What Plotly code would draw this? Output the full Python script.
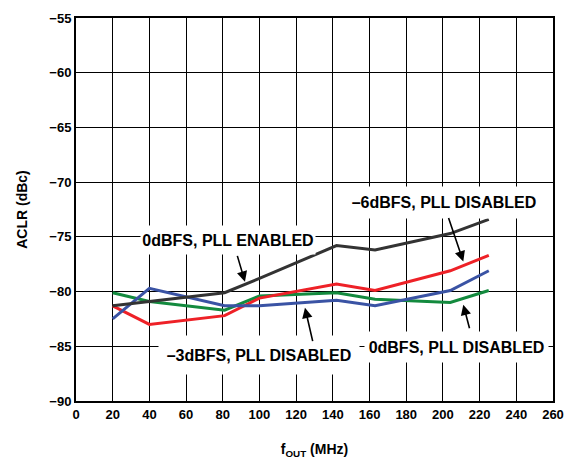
import plotly.graph_objects as go

# ACLR vs output frequency
f_out = [20, 40, 81, 100, 142, 163, 204, 225]

aclr_0dbfs_pll_on = [-81.3, -80.9, -80.1, -78.8, -75.8, -76.2, -74.7, -73.4]
aclr_m6dbfs_pll_off = [-81.3, -83.0, -82.2, -80.6, -79.3, -79.9, -78.1, -76.7]
aclr_m3dbfs_pll_off = [-82.5, -79.7, -81.3, -81.3, -80.8, -81.3, -79.9, -78.1]
aclr_0dbfs_pll_off = [-80.1, -80.9, -81.7, -80.4, -80.1, -80.7, -81.0, -79.9]

x_ticks = list(range(0, 261, 20))
y_ticks = list(range(-90, -54, 5))

font = dict(family="Liberation Sans, Arial, sans-serif", color="black")

fig = go.Figure()
fig.add_trace(go.Scatter(x=f_out, y=aclr_0dbfs_pll_off, mode="lines",
                         line=dict(color="#138a3e", width=3)))
fig.add_trace(go.Scatter(x=f_out, y=aclr_m6dbfs_pll_off, mode="lines",
                         line=dict(color="#ee2127", width=3)))
fig.add_trace(go.Scatter(x=f_out, y=aclr_m3dbfs_pll_off, mode="lines",
                         line=dict(color="#3a53a4", width=3)))
fig.add_trace(go.Scatter(x=f_out, y=aclr_0dbfs_pll_on, mode="lines",
                         line=dict(color="#333333", width=3)))

# labels (white boxes hide the grid behind them)
labels = [
    ("0dBFS, PLL ENABLED", 82.9, -75.25, 174, 28),
    ("\u20133dBFS, PLL DISABLED", 100.0, -85.78, 200, 38),
    ("\u20136dBFS, PLL DISABLED", 200.8, -71.88, 192, 31),
    ("0dBFS, PLL DISABLED", 207.4, -85.04, 183, 30),
]
for text, x, y, w, h in labels:
    fig.add_annotation(x=x, y=y, text=text, showarrow=False, bgcolor="white",
                       width=w, height=h, borderpad=0,
                       font=dict(size=16, weight="bold", **font))

# arrows: (tail x, tail y, head x, head y)
arrows = [
    (87.7, -76.6, 92.1, -79.1),
    (129.2, -84.67, 124.8, -81.47),
    (202.8, -73.14, 211.1, -77.25),
    (214.7, -83.49, 211.1, -81.2),
]
for tx, ty, hx, hy in arrows:
    fig.add_annotation(x=hx, y=hy, ax=tx, ay=ty, axref="x", ayref="y", text="",
                       showarrow=True, arrowhead=2, arrowsize=1.3, arrowwidth=1.6,
                       arrowcolor="black")

# page body adds ~8px offset, so the figure is a bit smaller than the window
fig.update_layout(
    width=568, height=451,
    margin=dict(l=68, r=23, t=10, b=58),
    paper_bgcolor="white", plot_bgcolor="white",
    showlegend=False,
    font=dict(size=13, weight="bold", **font),
)
fig.update_xaxes(
    range=[0, 260], tickvals=x_ticks, ticks="", showgrid=True,
    gridcolor="black", gridwidth=1.4, showline=True, linecolor="black",
    linewidth=2, mirror=True, zeroline=False, automargin=False,
    tickfont=dict(size=13, weight="bold", **font),
    title=dict(text="f<sub>OUT</sub> (MHz)", standoff=25,
               font=dict(size=14, weight="bold", **font)),
)
fig.update_yaxes(
    range=[-90, -55], tickvals=y_ticks, ticks="", showgrid=True,
    gridcolor="black", gridwidth=1.4, showline=True, linecolor="black",
    linewidth=2, mirror=True, zeroline=False, automargin=False,
    tickfont=dict(size=13, weight="bold", **font),
    title=dict(text="ACLR (dBc)", standoff=18,
               font=dict(size=14, weight="bold", **font)),
)

fig.write_html("out.html")
